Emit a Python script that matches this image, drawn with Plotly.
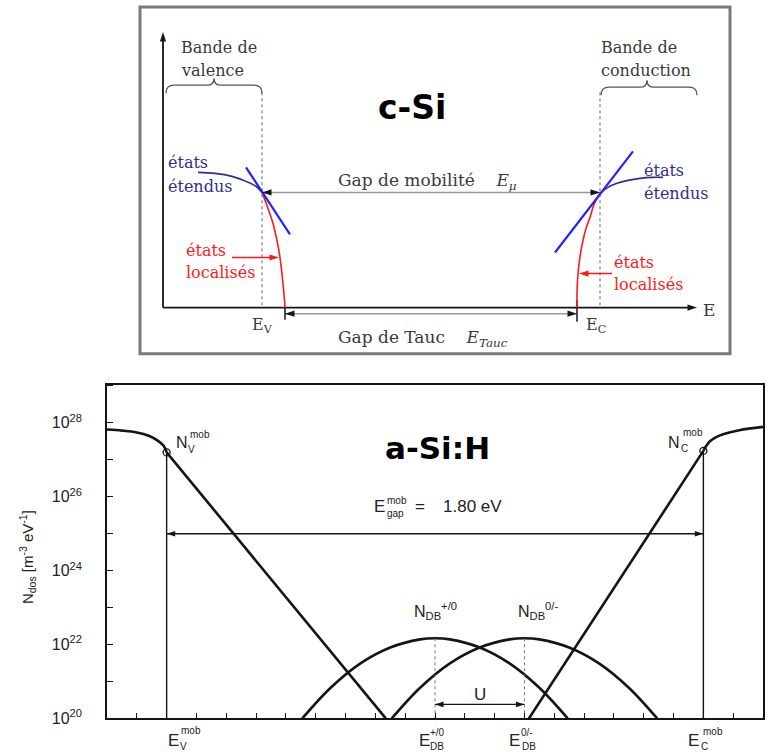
import plotly.graph_objects as go

W, H = 778, 755
HE = 744.5   # effective vertical extent observed for the rendered layout

# ================= lower panel : a-Si:H density of states =================
# energies in eV measured from E_V^mob ; densities as log10(N_dos / m^-3 eV^-1)
E_V_mob = 0.00
E_C_mob = 1.80
E_DB_p0 = 0.90
E_DB_0m = 1.20
N_V_mob_log = 27.20
N_C_mob_log = 27.24
DB_peak_log = 22.17

vb_E = [-0.20, -0.15, -0.10, -0.06, -0.03, -0.01, 0.00]
vb_logN = [27.82, 27.79, 27.74, 27.65, 27.52, 27.38, 27.20]
vb_tail_E = [0.00, 0.735]
vb_tail_logN = [27.20, 20.00]
cb_tail_E = [1.215, 1.80]
cb_tail_logN = [20.00, 27.24]
cb_E = [1.80, 1.81, 1.822, 1.84, 1.866, 1.92, 2.00]
cb_logN = [27.24, 27.38, 27.50, 27.60, 27.69, 27.80, 27.89]
db_p0_E = [0.455, 0.55, 0.65, 0.75, 0.85, 0.90, 0.95, 1.05, 1.15, 1.25, 1.345]
db_0m_E = [0.755, 0.85, 0.95, 1.05, 1.15, 1.20, 1.25, 1.35, 1.45, 1.55, 1.645]
db_logN = [20.00, 20.83, 21.49, 21.92, 22.14, 22.17, 22.14, 21.92, 21.49, 20.83, 20.00]
gap_arrow_log = 25.0
U_arrow_log = 20.38
gap_text = "1.80 eV"

y_major_exp = [20, 22, 24, 26, 28]
y_minor_exp = [21, 23, 25, 27, 29]
y_tick_text = ["10<sup>%d</sup>" % e for e in y_major_exp]
x_tick_E = [-0.2, -0.1, 0.0, 0.1, 0.2, 0.3, 0.4, 0.5, 0.6, 0.7, 0.8, 0.9, 1.0,
            1.1, 1.2, 1.3, 1.4, 1.5, 1.6, 1.7, 1.8, 1.9, 2.0]

# ================= upper panel : c-Si schematic (schematic units) =================
cs_axis_x0, cs_axis_y0 = 163, 307
cs_axis_xend, cs_axis_ytop = 697, 32
cs_Ev, cs_Ec = 262, 600
cs_mob_y = 192
cs_tauc_y = 313
cs_tauc_l, cs_tauc_r = 285, 577
vb_ext_x = [198, 215, 232, 246, 256, 262]
vb_ext_y = [172, 173, 176, 181, 186, 192]
vb_loc_x = [262, 267, 273, 277, 280, 283, 284.5, 285]
vb_loc_y = [192, 205, 223, 240, 257, 283, 300, 307]
vb_tan_x = [246, 290]
vb_tan_y = [167, 234]
cb_ext_x = [600, 608, 617, 628, 640, 652, 663]
cb_ext_y = [193, 187, 183, 180, 178, 177, 177]
cb_loc_x = [600, 594, 590, 586, 583, 580, 578, 577, 577]
cb_loc_y = [193, 204, 217, 228, 240, 256, 273, 292, 307]
cb_tan_x = [555, 633]
cb_tan_y = [252, 151]
brace_vb = (166, 262, 214, 85)   # x start, x end, tip x, baseline y
brace_cb = (601, 697, 647, 87)

fig = go.Figure()

BLK = "#151515"
SANS = "Liberation Sans, Arial, sans-serif"
SERIF = "DejaVu Serif, serif"
NAVY = "#2f2f8f"
BLUE = "#2323ff"
RED = "#ff1a1a"
GRAYTXT = "#3a3a3a"


def lin(x, y, color, width, xa="x", ya="y", dash="solid", shape="linear"):
    fig.add_trace(go.Scatter(x=x, y=y, mode="lines", xaxis=xa, yaxis=ya,
                             line=dict(color=color, width=width, dash=dash, shape=shape),
                             hoverinfo="skip", showlegend=False))


def heads(x, y, angles, color, xa="x", ya="y", size=10):
    fig.add_trace(go.Scatter(x=x, y=y, mode="markers", xaxis=xa, yaxis=ya,
                             marker=dict(symbol="arrow", size=size, angle=angles, color=color,
                                         line=dict(width=0)),
                             hoverinfo="skip", showlegend=False))


def P(v):
    return [10.0 ** a for a in v]


# ---- lower panel traces
lin(vb_E, P(vb_logN), BLK, 2.6, shape="spline")
lin(vb_tail_E, P(vb_tail_logN), BLK, 2.6)
lin(cb_tail_E, P(cb_tail_logN), BLK, 2.6)
lin(cb_E, P(cb_logN), BLK, 2.6, shape="spline")
lin(db_p0_E, P(db_logN), BLK, 2.6, shape="spline")
lin(db_0m_E, P(db_logN), BLK, 2.6, shape="spline")
lin([E_V_mob, E_V_mob], P([N_V_mob_log, 20]), BLK, 1.4)
lin([E_C_mob, E_C_mob], P([N_C_mob_log, 20]), BLK, 1.4)
lin([E_DB_p0, E_DB_p0], P([DB_peak_log, 20]), "#777", 1, dash="dot")
lin([E_DB_0m, E_DB_0m], P([DB_peak_log, 20]), "#777", 1, dash="dot")
lin([E_V_mob, E_C_mob], P([gap_arrow_log, gap_arrow_log]), BLK, 1.4)
lin([E_DB_p0, E_DB_0m], P([U_arrow_log, U_arrow_log]), BLK, 1.4)
fig.add_trace(go.Scatter(x=[E_V_mob, E_C_mob], y=P([N_V_mob_log, N_C_mob_log]), mode="markers",
                         marker=dict(symbol="circle-open", size=7, color=BLK, line=dict(width=1.3)),
                         hoverinfo="skip", showlegend=False))
heads([E_V_mob, E_C_mob, E_DB_p0, E_DB_0m],
      P([gap_arrow_log, gap_arrow_log, U_arrow_log, U_arrow_log]),
      [-90, 90, -90, 90], BLK, size=9)

# ---- upper panel traces
X2, Y2 = "x2", "y2"
lin([cs_axis_x0, cs_axis_x0], [cs_axis_y0, cs_axis_ytop + 6], BLK, 1.8, X2, Y2)
lin([cs_axis_x0, cs_axis_xend - 6], [cs_axis_y0, cs_axis_y0], BLK, 1.8, X2, Y2)
lin([cs_Ev, cs_Ev], [92, cs_axis_y0], "#888", 1.3, X2, Y2, dash="dot")
lin([cs_Ec, cs_Ec], [92, cs_axis_y0], "#888", 1.3, X2, Y2, dash="dot")
lin([cs_Ev, cs_Ec], [cs_mob_y, cs_mob_y], "#9a9a9a", 1.5, X2, Y2)
lin([cs_tauc_l, cs_tauc_r], [cs_tauc_y, cs_tauc_y], "#9a9a9a", 1.5, X2, Y2)
lin([cs_tauc_r, cs_tauc_r], [300, 321], BLK, 1.5, X2, Y2)
lin([cs_tauc_l, cs_tauc_l], [307, 319], BLK, 1.5, X2, Y2)
lin(vb_ext_x, vb_ext_y, NAVY, 1.6, X2, Y2, shape="spline")
lin(cb_ext_x, cb_ext_y, NAVY, 1.6, X2, Y2, shape="spline")
lin(vb_loc_x, vb_loc_y, RED, 1.6, X2, Y2, shape="spline")
lin(cb_loc_x, cb_loc_y, RED, 1.6, X2, Y2, shape="spline")
lin(vb_tan_x, vb_tan_y, BLUE, 2.2, X2, Y2)
lin(cb_tan_x, cb_tan_y, BLUE, 2.2, X2, Y2)
lin([232, 272], [257, 257], RED, 1.6, X2, Y2)
lin([612, 586], [273, 273], RED, 1.6, X2, Y2)
heads([cs_axis_x0, cs_axis_xend, cs_Ev, cs_Ec, cs_tauc_l, cs_tauc_r],
      [cs_axis_ytop, cs_axis_y0, cs_mob_y, cs_mob_y, cs_tauc_y, cs_tauc_y],
      [0, 90, -90, 90, -90, 90], BLK, X2, Y2, size=10)
heads([279, 579], [257, 273], [90, -90], RED, X2, Y2, size=10)

ann = []


def txt(x, y, text, xref, yref, size, color=BLK, family=SANS, xanchor="center",
        xshift=0, yshift=0, angle=0):
    ann.append(dict(x=x, y=y, xref=xref, yref=yref, text=text, showarrow=False,
                    font=dict(size=size, color=color, family=family),
                    xanchor=xanchor, yanchor="middle", xshift=xshift, yshift=yshift,
                    textangle=angle))


# ---- upper panel texts
txt(179, 47, "Bande de", X2, Y2, 16, GRAYTXT, SERIF, "left")
txt(179, 70, "valence", X2, Y2, 16, GRAYTXT, SERIF, "left")
txt(599, 47, "Bande de", X2, Y2, 16, GRAYTXT, SERIF, "left")
txt(599, 70, "conduction", X2, Y2, 16, GRAYTXT, SERIF, "left")
txt(412, 107, "<b>c-Si</b>", X2, Y2, 33, "#000", "DejaVu Sans, sans-serif")
txt(166, 162, "états", X2, Y2, 16, NAVY, SERIF, "left")
txt(166, 186, "étendus", X2, Y2, 16, NAVY, SERIF, "left")
txt(642, 170, "états", X2, Y2, 16, NAVY, SERIF, "left")
txt(642, 193, "étendus", X2, Y2, 16, NAVY, SERIF, "left")
txt(184, 250, "états", X2, Y2, 16, RED, SERIF, "left")
txt(184, 272, "localisés", X2, Y2, 16, RED, SERIF, "left")
txt(612, 262, "états", X2, Y2, 16, RED, SERIF, "left")
txt(612, 284, "localisés", X2, Y2, 16, RED, SERIF, "left")
txt(336, 181, "Gap de mobilité\u00a0\u00a0\u00a0\u00a0<i>E</i><sub><i>μ</i></sub>", X2, Y2, 17, GRAYTXT, SERIF, "left")
txt(336, 338, "Gap de Tauc\u00a0\u00a0\u00a0\u00a0<i>E</i><sub><i>Tauc</i></sub>", X2, Y2, 17, GRAYTXT, SERIF, "left")
txt(cs_Ev, 325, "E<sub>V</sub>", X2, Y2, 16, GRAYTXT, SERIF)
txt(596, 325, "E<sub>C</sub>", X2, Y2, 16, GRAYTXT, SERIF)
txt(709, 309, "E", X2, Y2, 17, GRAYTXT, SERIF)

# ---- lower panel texts
TC = "#222"
txt(437 / W, 1 - 447 / HE, "<b>a-Si:H</b>", "paper", "paper", 31, "#000", "DejaVu Sans, sans-serif")
txt(27 / W, 1 - 556 / HE, "N<sub>dos</sub> [m<sup>-3</sup> eV<sup>-1</sup>]", "paper", "paper", 15, TC, angle=-90)


def stacked(x, y, xref, yref, base, sup, sub, bx, sx, sy, ux, uy, bsize=17, ssize=10):
    txt(x, y, base, xref, yref, bsize, TC, xshift=bx)
    txt(x, y, sup, xref, yref, ssize, TC, xshift=sx, yshift=sy)
    txt(x, y, sub, xref, yref, ssize, TC, xshift=ux, yshift=uy)


ylab = 1 - 739 / HE
stacked(E_V_mob, ylab, "x", "paper", "E", "mob", "V", 7, 24, 10, 17, -6)
stacked(E_DB_p0, ylab, "x", "paper", "E", "+/0", "DB", -11, 2, 8, 2, -6)
stacked(E_DB_0m, ylab, "x", "paper", "E", "0/-", "DB", -10, 3, 8, 5, -6)
stacked(E_C_mob, ylab, "x", "paper", "E", "mob", "C", -10, 10, 9, 1, -6)
stacked(E_V_mob, 27.48, "x", "y", "N", "mob", "V", 15, 33, 8, 25, -7, bsize=16)
stacked(E_C_mob, 27.48, "x", "y", "N", "mob", "C", -29, -10, 10, -19, -6, bsize=16)
stacked(E_DB_p0, 25.745, "x", "y", "E", "mob", "gap", -56, -38, 6, -40, -7)
txt(E_DB_p0, 25.745, "=", "x", "y", 17, TC, xshift=-15)
txt(E_DB_p0, 25.745, gap_text, "x", "y", 17, TC, xshift=37)
txt(1.05, 20.65, "U", "x", "y", 17, TC)
txt(E_DB_p0, 22.9, "N<sub>DB</sub><sup>+/0</sup>", "x", "y", 16, TC)
txt(1.245, 22.9, "N<sub>DB</sub><sup>0/-</sup>", "x", "y", 16, TC)


def brace(b):
    x1, x2, xm, y = b
    ye, yt = y + 8, y - 7
    return (f"M {x1},{ye} Q {x1},{y} {x1 + 8},{y} L {xm - 7},{y} Q {xm},{y} {xm},{yt} "
            f"Q {xm},{y} {xm + 7},{y} L {x2 - 8},{y} Q {x2},{y} {x2},{ye}")


shapes = [dict(type="rect", xref="paper", yref="paper", x0=140 / W, x1=730 / W,
               y0=1 - 353 / HE, y1=1 - 7 / HE, line=dict(color="#7a7a7a", width=3)),
          dict(type="path", xref="x2", yref="y2", path=brace(brace_vb),
               line=dict(color="#555", width=1.3)),
          dict(type="path", xref="x2", yref="y2", path=brace(brace_cb),
               line=dict(color="#555", width=1.3))]

fig.update_layout(
    width=W, height=H, margin=dict(l=0, r=0, t=0, b=0),
    paper_bgcolor="white", plot_bgcolor="rgba(0,0,0,0)", showlegend=False,
    xaxis=dict(domain=[107 / W, 763 / W], range=[-0.2, 2.0], anchor="y",
               tickvals=x_tick_E, showticklabels=False, ticks="inside",
               ticklen=6, tickwidth=1.2, tickcolor=BLK, showline=True, linecolor=BLK,
               linewidth=1.6, mirror=True, showgrid=False, zeroline=False),
    yaxis=dict(domain=[1 - 717 / HE, 1 - 384 / HE], type="log", range=[20, 29.03], anchor="x",
               tickvals=[10.0 ** e for e in y_major_exp], ticktext=y_tick_text, ticks="inside",
               ticklen=6, tickwidth=1.2, tickcolor=BLK, showline=True, linecolor=BLK,
               linewidth=1.6, mirror=True, showgrid=False, zeroline=False,
               minor=dict(tickvals=[10.0 ** e for e in y_minor_exp], ticks="inside",
                          ticklen=6, tickwidth=1.2, tickcolor=BLK, showgrid=False),
               ticklabelstandoff=20, tickfont=dict(size=16, color=TC, family=SANS)),
    xaxis2=dict(domain=[140 / W, 730 / W], range=[140, 730], anchor="y2", visible=False),
    yaxis2=dict(domain=[1 - 353 / HE, 1 - 7 / HE], range=[353, 7], anchor="x2", visible=False),
    shapes=shapes,
    annotations=ann,
)

fig.write_html("out.html")
